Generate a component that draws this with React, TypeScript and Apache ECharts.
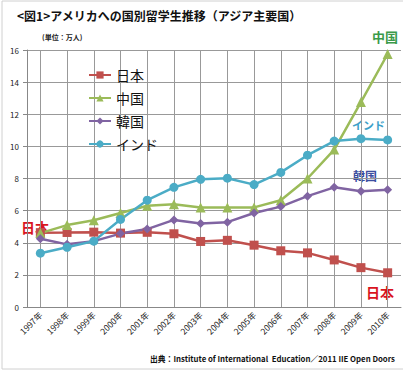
import React, { useEffect, useRef } from "react";
import * as echarts from "echarts";

const years = ["1997年","1998年","1999年","2000年","2001年","2002年","2003年","2004年","2005年","2006年","2007年","2008年","2009年","2010年"];
const japan = [4.63, 4.64, 4.66, 4.6, 4.65, 4.56, 4.08, 4.15, 3.85, 3.5, 3.37, 2.93, 2.45, 2.13];
const china = [4.6, 5.1, 5.4, 5.85, 6.3, 6.4, 6.2, 6.2, 6.2, 6.65, 8.0, 9.8, 12.76, 15.75];
const korea = [4.25, 3.9, 4.1, 4.57, 4.85, 5.42, 5.2, 5.28, 5.85, 6.25, 6.9, 7.45, 7.2, 7.3];
const india = [3.35, 3.72, 4.1, 5.45, 6.65, 7.45, 7.95, 8.02, 7.62, 8.38, 9.45, 10.33, 10.48, 10.4];
const yTicks = [0, 16, 2];

const FONT = "'Noto Sans CJK JP', 'Noto Sans', sans-serif";

export default function App() {
  const ref = useRef<HTMLDivElement>(null);
  useEffect(() => {
    const chart = echarts.init(ref.current!, null, { renderer: "svg" });
    const mk = (name: string, data: number[], color: string, symbol: string, size: number) => ({
      name,
      type: "line",
      data,
      symbol,
      symbolSize: size,
      itemStyle: { color },
      lineStyle: { color, width: 2.5 },
    });
    chart.setOption({
      animation: false,
      backgroundColor: "#fff",
      textStyle: { fontFamily: FONT },
      grid: { left: 27, right: 2, top: 50, bottom: 74 },
      legend: {
        orient: "vertical",
        left: 83,
        top: 63,
        itemWidth: 22,
        itemHeight: 9,
        itemGap: 9,
        textStyle: { fontSize: 14, color: "#111", fontFamily: FONT },
        data: ["日本", "中国", "韓国", "インド"],
      },
      xAxis: {
        type: "category",
        data: years,
        boundaryGap: true,
        axisLine: { show: true, lineStyle: { color: "#888", width: 1 } },
        axisTick: { show: true, alignWithLabel: true, inside: true, length: 257, lineStyle: { color: "#999", width: 1 } },
        axisLabel: { rotate: 45, fontSize: 8.5, color: "#222", margin: 6, interval: 0, fontFamily: FONT },
        splitLine: { show: false },
      },
      yAxis: {
        type: "value",
        min: yTicks[0],
        max: yTicks[1],
        interval: yTicks[2],
        axisLine: { show: true, lineStyle: { color: "#888" } },
        axisTick: { show: true, length: 4, lineStyle: { color: "#888" } },
        axisLabel: { fontSize: 8, color: "#222", margin: 8, fontFamily: FONT },
        splitLine: { lineStyle: { color: "#999", width: 1 } },
      },
      series: [
        mk("日本", japan, "#c0504d", "rect", 9),
        mk("中国", china, "#9bbb59", "triangle", 10),
        mk("韓国", korea, "#8064a2", "diamond", 9),
        mk("インド", india, "#4bacc6", "circle", 9),
      ],
      graphic: [
        { type: "rect", shape: { x: 2, y: 1, width: 420, height: 368 }, style: { fill: "none", stroke: "#d0d0d0", lineWidth: 1 }, silent: true },
        { type: "text", left: 17, top: 9, style: { text: "<図1>アメリカへの国別留学生推移（アジア主要国）", fontSize: 12, fontWeight: "bold", fill: "#111", fontFamily: FONT } },
        { type: "text", left: 42, top: 33, style: { text: "(単位：万人)", fontSize: 7, fontWeight: "bold", fill: "#222", fontFamily: FONT } },
        { type: "text", left: 372, top: 30, style: { text: "中国", fontSize: 13, fontWeight: "bold", fill: "#3a9a4a", fontFamily: FONT } },
        { type: "text", left: 352, top: 119, style: { text: "インド", fontSize: 11, fontWeight: "bold", fill: "#3d9fc9", fontFamily: FONT } },
        { type: "text", left: 353, top: 169, style: { text: "韓国", fontSize: 12, fontWeight: "bold", fill: "#3b4ea0", fontFamily: FONT } },
        { type: "text", left: 366, top: 285, style: { text: "日本", fontSize: 14, fontWeight: "bold", fill: "#d9141e", fontFamily: FONT } },
        { type: "text", left: 21, top: 220, style: { text: "日本", fontSize: 14, fontWeight: "bold", fill: "#d9141e", fontFamily: FONT } },
        { type: "text", left: 150, top: 355, style: { text: "出典：Institute of International  Education／2011 IIE Open Doors", fontSize: 7.8, fontWeight: "bold", fill: "#111", fontFamily: FONT } },
      ],
    });
    return () => chart.dispose();
  }, []);
  return <div ref={ref} style={{ position: "absolute", left: 0, top: 0, width: 403, height: 381 }} />;
}
